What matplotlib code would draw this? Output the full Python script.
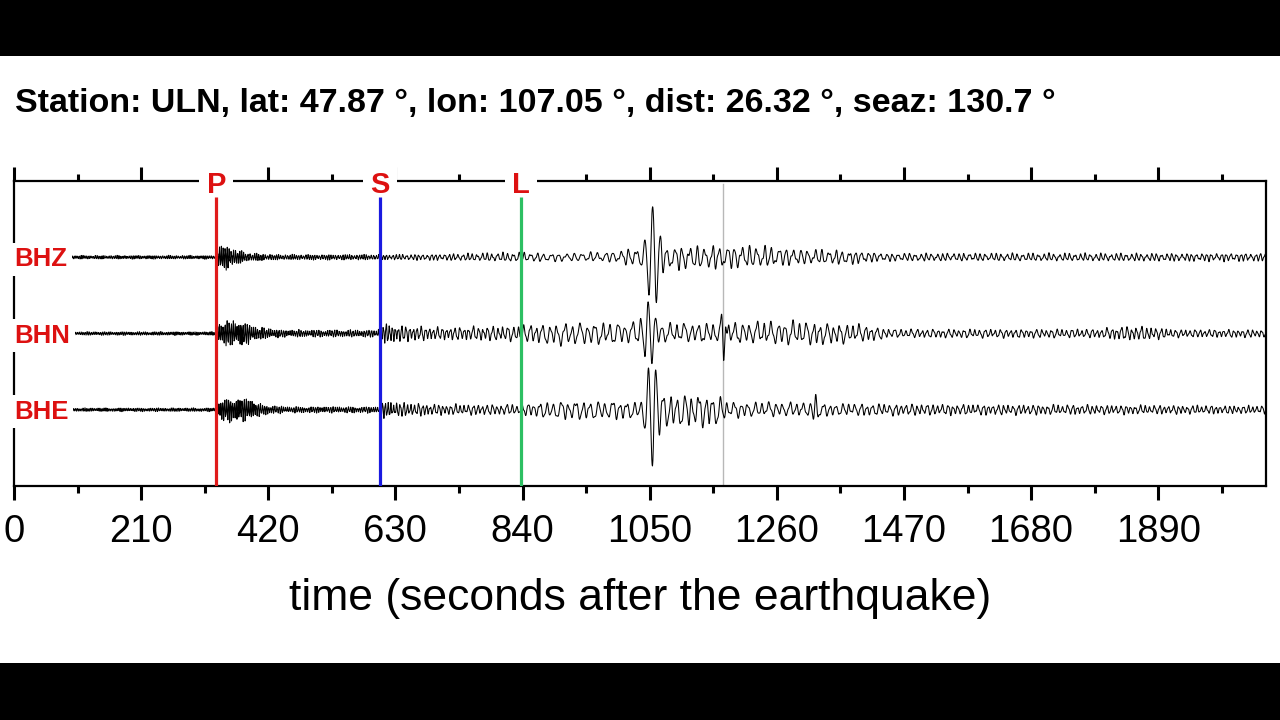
import numpy as np
import matplotlib
matplotlib.use("Agg")
import matplotlib.pyplot as plt
from matplotlib.patches import Rectangle

plt.rcParams['font.family'] = ['Liberation Sans', 'DejaVu Sans']

# ---------------- data ----------------
TITLE = "Station: ULN, lat: 47.87 °, lon: 107.05 °, dist: 26.32 °, seaz: 130.7 °"
XLABEL = "time (seconds after the earthquake)"
X_MAX = 2068
MAJOR_TICKS = [0, 210, 420, 630, 840, 1050, 1260, 1470, 1680, 1890]
MINOR_TICKS = [105, 315, 525, 735, 945, 1155, 1365, 1575, 1785, 1995]

CHANNELS = ["BHZ", "BHN", "BHE"]
BASELINES = [3, 2, 1]

PHASE_NAMES = ["P", "S", "L"]
PHASE_TIMES = [334, 605, 837]
PHASE_COLORS = ["#e01b1b", "#1a1ae0", "#2dbf62"]
MARK_TIME = 1171  # thin grey marker

# amplitude envelope knots (s) and half peak-to-peak amplitudes (1/76 trace spacing)
BHZ_ENV_T = [0, 333, 338, 352, 365, 385, 430, 600, 700, 830, 900, 985, 1030, 1045, 1070, 1230, 1300, 1380, 1440, 2068]
BHZ_ENV_A = [2, 2, 11, 15, 9, 5, 3, 3, 3.5, 5.5, 4.5, 6, 11, 6, 14, 13, 9, 8, 4.5, 4.5]
BHN_ENV_T = [0, 333, 338, 360, 380, 405, 445, 600, 610, 640, 700, 830, 900, 1000, 1035, 1075, 1170, 1300, 1400, 1450, 1790, 1830, 1870, 1920, 2068]
BHN_ENV_A = [2, 2, 12, 15, 13, 7, 4, 4, 11, 9, 7, 9, 13, 13, 12, 11, 12, 14, 10, 5, 5, 8, 8, 4.5, 4.5]
BHE_ENV_T = [0, 333, 338, 360, 390, 410, 450, 600, 610, 700, 830, 900, 1000, 1040, 1070, 1100, 1165, 1180, 1300, 1360, 1600, 2068]
BHE_ENV_A = [2, 2, 11, 14, 12, 6, 3.5, 3.5, 9, 6, 6, 11, 11, 9, 18, 20, 18, 9, 8, 7, 6, 4.5]

# dominant period knots (s)
PERIOD_T = [0, 330, 400, 600, 650, 830, 900, 1300, 1500, 2068]
PERIOD_S = [3.4, 3.2, 3.6, 4.0, 6.5, 9, 13, 12, 9, 8]

# distinct wave packets: channel index, centre time, amplitude, period, width
PULSE_CH = [0, 1, 2, 1, 2]
PULSE_T0 = [1055, 1048, 1054, 1172, 1324]
PULSE_A = [50, 28, -48, -24, 12]
PULSE_T = [13, 12, 13, 8, 9]
PULSE_W = [11, 11, 11, 4, 5]

AMP_SCALE = 76.0
DT = 0.25

# ---------------- build traces ----------------
t = np.arange(0, X_MAX, DT)
period = np.interp(t, PERIOD_T, PERIOD_S)
phase = 2 * np.pi * np.cumsum(DT / period)
envs = [np.interp(t, BHZ_ENV_T, BHZ_ENV_A),
        np.interp(t, BHN_ENV_T, BHN_ENV_A),
        np.interp(t, BHE_ENV_T, BHE_ENV_A)]
consts = [(0.3, 1.1, 2.0, 0.7), (1.7, 0.4, 0.9, 2.3), (2.9, 2.2, 1.5, 0.2)]

traces = []
for i, env in enumerate(envs):
    c1, c2, c3, c4 = consts[i]
    mod = 0.72 + 0.28 * np.sin(2 * np.pi * t / 41 + c1) * np.sin(2 * np.pi * t / 17 + c2)
    carrier = 0.85 * np.sin(phase * (1 + 0.03 * i) + c3 + 0.6 * np.sin(2 * np.pi * t / 29 + c1)) * mod \
        + 0.18 * np.sin(2.3 * phase + c4)
    sig = env * carrier
    for ch, t0, a, per, w in zip(PULSE_CH, PULSE_T0, PULSE_A, PULSE_T, PULSE_W):
        if ch == i:
            sig = sig + a * np.exp(-((t - t0) / w) ** 2) * np.cos(2 * np.pi * (t - t0) / per)
    traces.append(BASELINES[i] + sig / AMP_SCALE)

# ---------------- figure ----------------
fig = plt.figure(figsize=(12.8, 7.2), dpi=100, facecolor="black")
fig.patches.append(Rectangle((0, 1 - 663 / 720), 1, (663 - 56) / 720,
                             transform=fig.transFigure, facecolor="white",
                             edgecolor="none", zorder=-10))
ax = fig.add_axes([14 / 1280, 1 - 486 / 720, 1252 / 1280, 305 / 720])
ax.set_facecolor("white")

for y in traces:
    ax.plot(t, y, color="black", lw=0.75, zorder=2)

ax.axvline(MARK_TIME, ymin=0, ymax=0.99, color="#b8b8b8", lw=1.0, zorder=1)
for name, tt, col in zip(PHASE_NAMES, PHASE_TIMES, PHASE_COLORS):
    ax.vlines(tt, 0, 4 - 16 / 76, color=col, lw=2.3, zorder=4)
    ax.text(tt, 4 - 12 / 76, name, color="#dd1111", fontsize=21, fontweight="bold",
            ha="center", va="baseline", zorder=3,
            bbox=dict(boxstyle="square,pad=0.25", facecolor="white", edgecolor="none"))

for name, b in zip(CHANNELS, BASELINES):
    ax.text(0, b - 9 / 76, name, color="#dd1111", fontsize=18.5, fontweight="bold",
            ha="left", va="baseline", zorder=3,
            bbox=dict(boxstyle="square,pad=0.18", facecolor="white", edgecolor="none"))

ax.set_xlim(0, X_MAX)
ax.set_ylim(0, 4)
ax.set_yticks([])
ax.set_xticks(MAJOR_TICKS)
ax.set_xticklabels([str(v) for v in MAJOR_TICKS])
ax.set_xticks(MINOR_TICKS, minor=True)
ax.tick_params(axis="x", which="major", direction="out", length=10, width=2.2,
               top=True, bottom=True, labelsize=27.5, pad=10)
ax.tick_params(axis="x", which="minor", direction="out", length=5, width=2.2,
               top=True, bottom=True)
for s in ax.spines.values():
    s.set_linewidth(1.6)

fig.text(15 / 1280, 1 - 112 / 720, TITLE, fontsize=24.5, fontweight="bold",
         ha="left", va="baseline", color="black")
fig.text(0.5, 1 - 610 / 720, XLABEL, fontsize=32, ha="center", va="baseline",
         color="black")

fig.savefig("out.png", dpi=100, facecolor=fig.get_facecolor())
